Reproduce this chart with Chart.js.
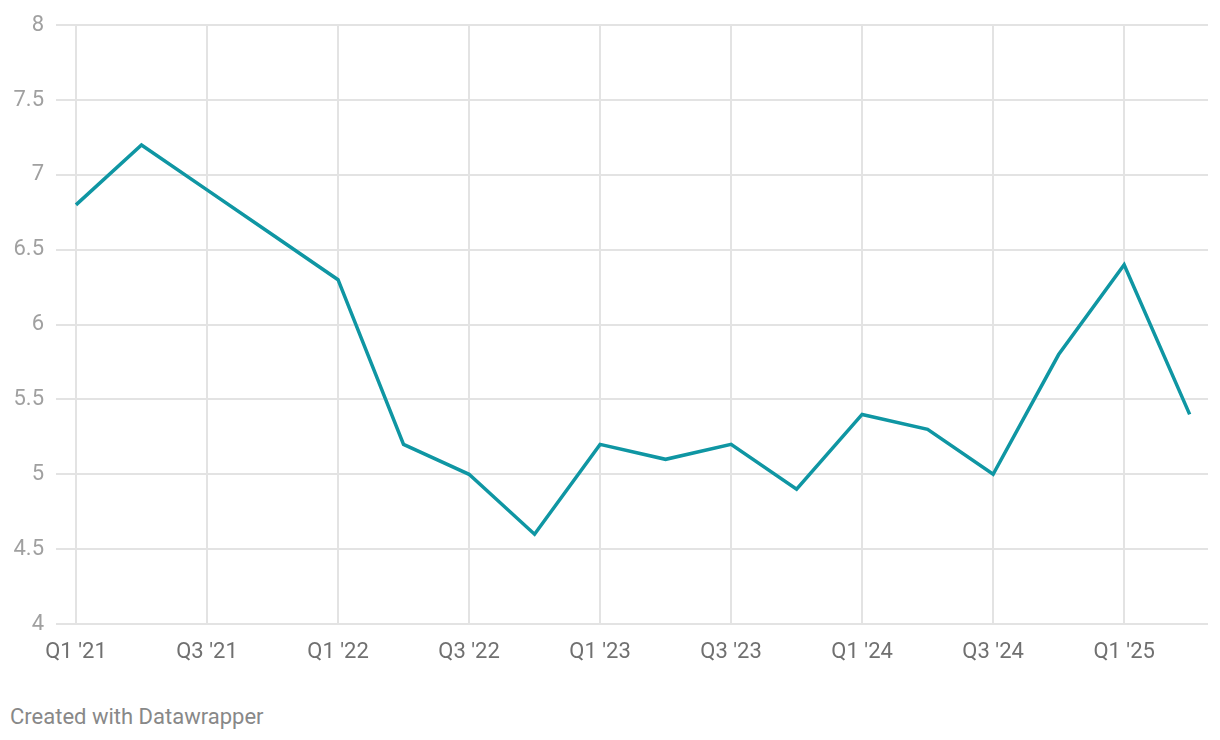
<!DOCTYPE html>
<html>
<head>
<meta charset="utf-8">
<script src="https://cdn.jsdelivr.net/npm/chart.js@4"></script>
<style>
  html, body { margin: 0; padding: 0; background: #fff; }
  #wrap { position: absolute; left: 0; top: 0; width: 1220px; height: 680px; }
  #footer { position: absolute; left: 10px; top: 704px; font: 22px Roboto, sans-serif; color: #888; }
</style>
</head>
<body>
<div id="wrap"><canvas id="chart"></canvas></div>
<div id="footer">Created with Datawrapper</div>
<script>
// quarters Q1 '21 .. Q2 '25
const quarters = ["Q1 '21", "Q2 '21", "Q3 '21", "Q4 '21", "Q1 '22", "Q2 '22", "Q3 '22", "Q4 '22",
  "Q1 '23", "Q2 '23", "Q3 '23", "Q4 '23", "Q1 '24", "Q2 '24", "Q3 '24", "Q4 '24", "Q1 '25", "Q2 '25"]
const values = [6.8, 7.2, 6.9, 6.6, 6.3, 5.2, 5.0, 4.6, 5.2, 5.1, 5.2, 4.9, 5.4, 5.3, 5.0, 5.8, 6.4, 5.4]
const yTicks = [4, 4.5, 5, 5.5, 6, 6.5, 7, 7.5, 8]

const points = values.map((v, i) => ({ x: i, y: v }))

new Chart(document.getElementById('chart').getContext('2d'), {
  type: 'line',
  data: {
    datasets: [{
      data: points,
      borderColor: '#0f96a3',
      borderWidth: 3.5,
      pointRadius: 0,
      tension: 0,
      fill: false
    }]
  },
  options: {
    responsive: true,
    maintainAspectRatio: false,
    animation: false,
    layout: { padding: { top: 23, right: 12, bottom: 0, left: 0 } },
    plugins: { legend: { display: false }, tooltip: { enabled: false } },
    scales: {
      x: {
        type: 'linear',
        min: -0.305,
        max: 17.28,
        border: { display: false },
        grid: { color: '#e3e3e3', lineWidth: 2, drawTicks: false },
        ticks: {
          stepSize: 2,
          includeBounds: false,
          padding: 15,
          color: '#707070',
          font: { family: 'Roboto', size: 22 },
          maxRotation: 0,
          callback: v => quarters[v] || ''
        },
        afterFit: s => { s.height = 56 }
      },
      y: {
        min: 4,
        max: 8,
        border: { display: false },
        grid: { color: '#e3e3e3', lineWidth: 2, drawTicks: false },
        afterBuildTicks: s => { s.ticks = yTicks.map(v => ({ value: v })) },
        ticks: {
          padding: 12,
          color: '#a0a0a0',
          font: { family: 'Roboto', size: 22 },
          callback: v => String(v)
        },
        afterFit: s => { s.width = 56 }
      }
    }
  }
})
</script>
</body>
</html>
